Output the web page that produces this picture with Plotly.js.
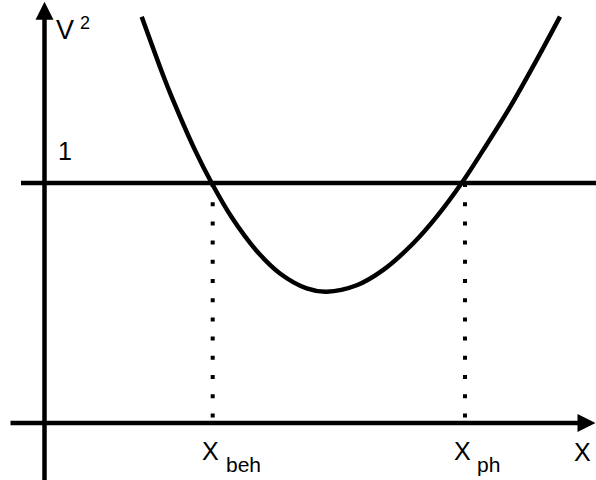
<!DOCTYPE html>
<html>
<head>
<meta charset="utf-8">
<script src="https://cdn.plot.ly/plotly-3.0.1.min.js"></script>
<style>
  html, body { margin: 0; padding: 0; background: #ffffff; }
  #chart { width: 596px; height: 480px; }
</style>
</head>
<body>
<div id="chart"></div>
<script>
// V^2 as a function of X, sampled along the curve
const curveX  = [0.972, 1.188, 1.272, 1.505, 1.672, 1.872, 2.122, 2.355, 2.622, 2.822,
                 3.122, 3.388, 3.688, 3.922, 4.172, 4.388, 4.655, 4.922, 5.155];
const curveV2 = [1.693, 1.447, 1.359, 1.137, 1.0, 0.857, 0.717, 0.623, 0.561, 0.547,
                 0.574, 0.638, 0.749, 0.860, 1.0, 1.138, 1.316, 1.513, 1.693];

// Reference level V^2 = 1 and the two marked abscissae
const level = 1;
const markX = [1.682, 4.205];
const markSub = ['beh', 'ph'];

const FONT = 'Arial, "Liberation Sans", sans-serif';
const INK = '#000000';

const traces = [];

// dotted drops from the level line to the X axis
markX.forEach(function (xv) {
  traces.push({
    x: [xv, xv], y: [level, 0],
    mode: 'lines', hoverinfo: 'skip',
    line: { color: INK, width: 4, dash: '4px,15.2px' }
  });
});

// level line V^2 = 1
traces.push({
  x: [-0.235, 5.7], y: [level, level],
  mode: 'lines', hoverinfo: 'skip',
  line: { color: INK, width: 4.5 }
});

// the curve
traces.push({
  x: curveX, y: curveV2,
  mode: 'lines', hoverinfo: 'skip',
  line: { color: INK, width: 4.5, shape: 'spline', smoothing: 1 }
});

function label(text, size, x, xref, y, yref, xshift, yshift) {
  return {
    text: text, showarrow: false,
    x: x, xref: xref, y: y, yref: yref,
    xanchor: 'center', yanchor: 'middle',
    xshift: xshift, yshift: yshift,
    font: { family: FONT, size: size, color: INK }
  };
}

const annotations = [
  // vertical axis with arrow
  { x: 0, y: 1.755, ax: 0, ay: -0.26, xref: 'x', yref: 'y', axref: 'x', ayref: 'y',
    text: '', showarrow: true, arrowhead: 2, arrowsize: 0.8, arrowwidth: 4.5,
    arrowcolor: INK, standoff: 0 },
  // horizontal axis with arrow
  { x: 5.51, y: 0, ax: -0.355, ay: 0, xref: 'x', yref: 'y', axref: 'x', ayref: 'y',
    text: '', showarrow: true, arrowhead: 2, arrowsize: 0.8, arrowwidth: 4.5,
    arrowcolor: INK, standoff: 0 },
  // axis titles
  label('V', 27, 0, 'x', 1, 'paper', 20.5, -29.5),
  label('2', 18, 0, 'x', 1, 'paper', 40.5, -22.5),
  label('X', 25, 1, 'paper', 0, 'y', -13.5, -28.5),
  // level tick label
  label('1', 25, 0, 'x', level, 'y', 20, 32.5)
];

markX.forEach(function (xv, i) {
  annotations.push(label('X', 25, xv, 'x', 0, 'y', -2.3, -28));
  annotations.push(label(markSub[i], 21, xv, 'x', 0, 'y', i === 0 ? 30.3 : 23.8, -41.75));
});

const layout = {
  width: 596, height: 480,
  margin: { l: 0, r: 0, t: 0, b: 0, pad: 0 },
  paper_bgcolor: '#ffffff', plot_bgcolor: '#ffffff',
  showlegend: false,
  xaxis: { range: [-0.445, 5.515], visible: false, fixedrange: true },
  yaxis: { range: [-0.2375, 1.7625], visible: false, fixedrange: true },
  annotations: annotations
};

Plotly.newPlot('chart', traces, layout, { staticPlot: true, displayModeBar: false });
</script>
</body>
</html>
